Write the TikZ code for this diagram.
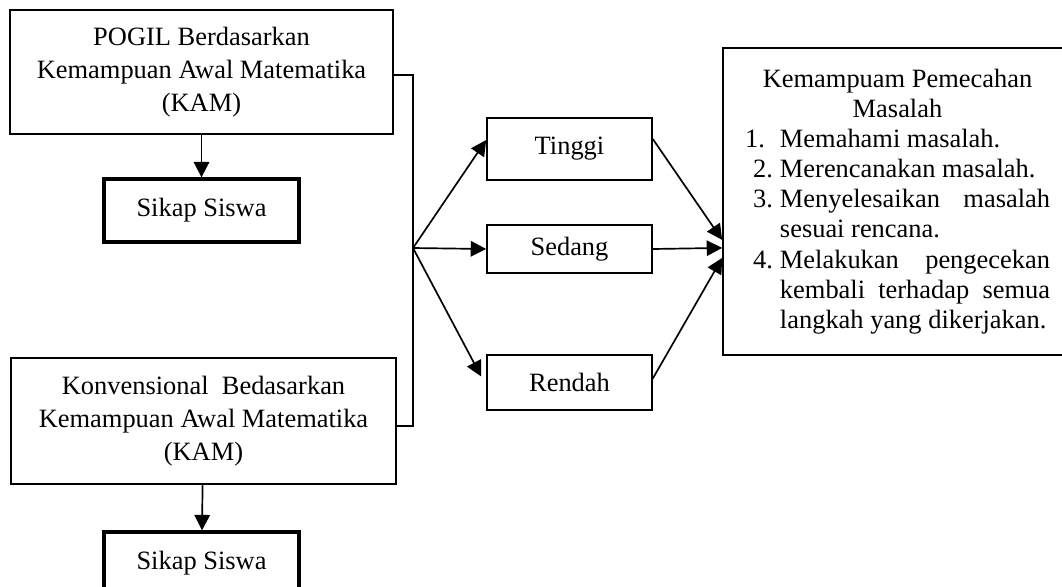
\documentclass[tikz,border=0pt]{standalone}
\usepackage{fontspec}
\setmainfont{Liberation Serif}
\usetikzlibrary{arrows.meta}
\begin{document}
\begin{tikzpicture}[>={Triangle[length=11pt,width=11pt]}, x=0.025cm, y=-0.025cm]

	% Gaya kotak dan panah
	\tikzset{
		kotak/.style={draw, line width=1.1pt, align=center, inner sep=0pt,
			font=\fontsize{18.8}{23.5}\selectfont},
		kotakTebal/.style={kotak, line width=2.3pt, minimum width=4.875cm, minimum height=1.575cm},
		level/.style={kotak, minimum width=4.125cm},
		panah/.style={->, line width=1.2pt}
	}

	% Batas gambar (kotak bawah terpotong di tepi)
	\path[use as bounding box, clip] (0,0) rectangle (1062,586);

	% Kotak kiri atas (POGIL)
	\node[kotak, minimum width=9.575cm, minimum height=3.1cm] (pogil) at (201.5,72)
		{POGIL Berdasarkan\\Kemampuan Awal Matematika\\(KAM)};
	\node[kotakTebal] (sikapA) at (201.5,210.5) {Sikap Siswa};

	% Kotak kiri bawah (Konvensional)
	\node[kotak, minimum width=9.625cm, minimum height=3.15cm] (konv) at (203.5,421)
		{Konvensional~~Bedasarkan\\Kemampuan Awal Matematika\\(KAM)};
	\node[kotakTebal] (sikapB) at (201.5,563.5) {Sikap Siswa};

	% Panah ke Sikap Siswa
	\draw[panah] (pogil) -- (sikapA);
	\draw[panah] (konv) -- (sikapB);

	% Garis kurung dan titik cabang
	\coordinate (cabang) at (413,248);
	\draw[line width=1.1pt] ([yshift=-0.075cm]pogil.east) -| (cabang) |- ([yshift=-0.125cm]konv.east);

	% Kotak tingkat KAM
	\foreach \nama/\teks/\y/\h in {tinggi/Tinggi/149/1.55cm, sedang/Sedang/249/1.2cm, rendah/Rendah/382.5/1.375cm} {
		\node[level, minimum height=\h] (\nama) at (569.5,\y) {\teks};
	}

	% Panah dari titik cabang
	\draw[panah] (cabang) -- ([yshift=0.225cm]tinggi.west);
	\draw[panah] (cabang) -- (sedang.west);
	\draw[panah] (cabang) -- ([yshift=0.15cm, xshift=-0.125cm]rendah.west);

	% Kotak kemampuan pemecahan masalah
	\node[kotak, minimum width=8.725cm, minimum height=7.675cm, text width=7.625cm, align=justify,
		font=\fontsize{18.8}{21.4}\selectfont] (hasil) at (897.5,201.5) {%
		{\centering Kemampuam Pemecahan\\Masalah\par}
		\leftskip=0.875cm \hyphenpenalty=10000
		\noindent\llap{1.\hspace{0.375cm}}Memahami masalah.\par
		\noindent\llap{2.\hspace{0.175cm}}Merencanakan masalah.\par
		\noindent\llap{3.\hspace{0.175cm}}Menyelesaikan masalah sesuai rencana.\par
		\noindent\llap{4.\hspace{0.175cm}}Melakukan pengecekan kembali terhadap semua langkah yang dikerjakan.\par};

	% Panah ke kotak hasil
	\draw[panah] ([yshift=0.25cm]tinggi.east) -- ([yshift=-0.96cm]hasil.west);
	\draw[panah] (sedang.east) -- ([yshift=-1.16cm]hasil.west);
	\draw[panah] ([yshift=0.1cm]rendah.east) -- ([yshift=-1.41cm]hasil.west);

\end{tikzpicture}
\end{document}
